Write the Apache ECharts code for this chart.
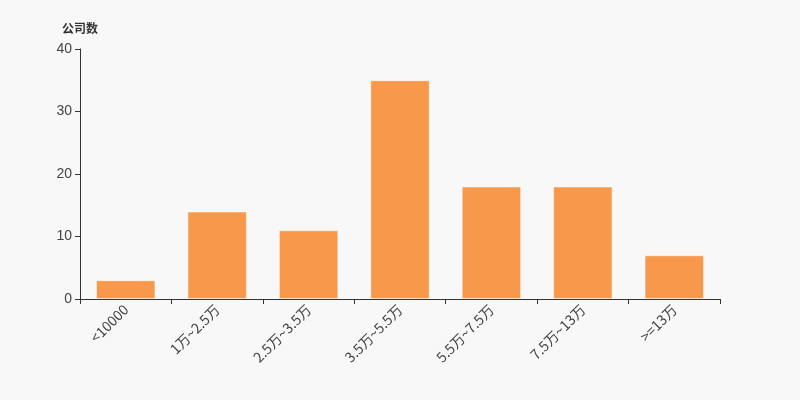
<!DOCTYPE html>
<html><head><meta charset="utf-8">
<script src="https://cdn.jsdelivr.net/npm/echarts@6/dist/echarts.min.js"></script>
<style>html,body{margin:0;padding:0;background:#f8f8f8;}#c{width:800px;height:400px;}</style>
</head><body><div id="c"></div>
<script>
var categories = ['<10000', '1万~2.5万', '2.5万~3.5万', '3.5万~5.5万', '5.5万~7.5万', '7.5万~13万', '>=13万'];
var counts = [3, 14, 11, 35, 18, 18, 7];
var yTicks = {min: 0, max: 40, interval: 10};
var chart = echarts.init(document.getElementById('c'));
chart.setOption({
  backgroundColor: '#f8f8f8',
  animation: false,
  grid: {left: 80, right: 80, top: 49, bottom: 101},
  xAxis: {
    type: 'category', data: categories,
    axisLine: {lineStyle: {color: '#333'}},
    axisTick: {show: true, length: 5, lineStyle: {color: '#333'}},
    axisLabel: {rotate: 45, color: '#444', fontSize: 14, fontFamily: 'Noto Sans CJK SC', margin: 8, interval: 0}
  },
  yAxis: {
    type: 'value', min: yTicks.min, max: yTicks.max, interval: yTicks.interval,
    name: '公司数', nameGap: 15,
    nameTextStyle: {color: '#333', fontWeight: 'bold', fontSize: 12, fontFamily: 'Noto Sans CJK SC', align: 'right', padding: [0, -18, 0, 0]},
    axisLine: {show: true, lineStyle: {color: '#333'}},
    axisTick: {show: true, length: 5, lineStyle: {color: '#333'}},
    axisLabel: {color: '#444', fontSize: 14, fontFamily: 'Liberation Sans'},
    splitLine: {show: false}
  },
  series: [{
    type: 'bar', data: counts, barWidth: '65%',
    itemStyle: {color: '#f7984a', borderColor: 'rgba(255,255,255,0.5)', borderWidth: 1}
  }]
});
</script></body></html>
